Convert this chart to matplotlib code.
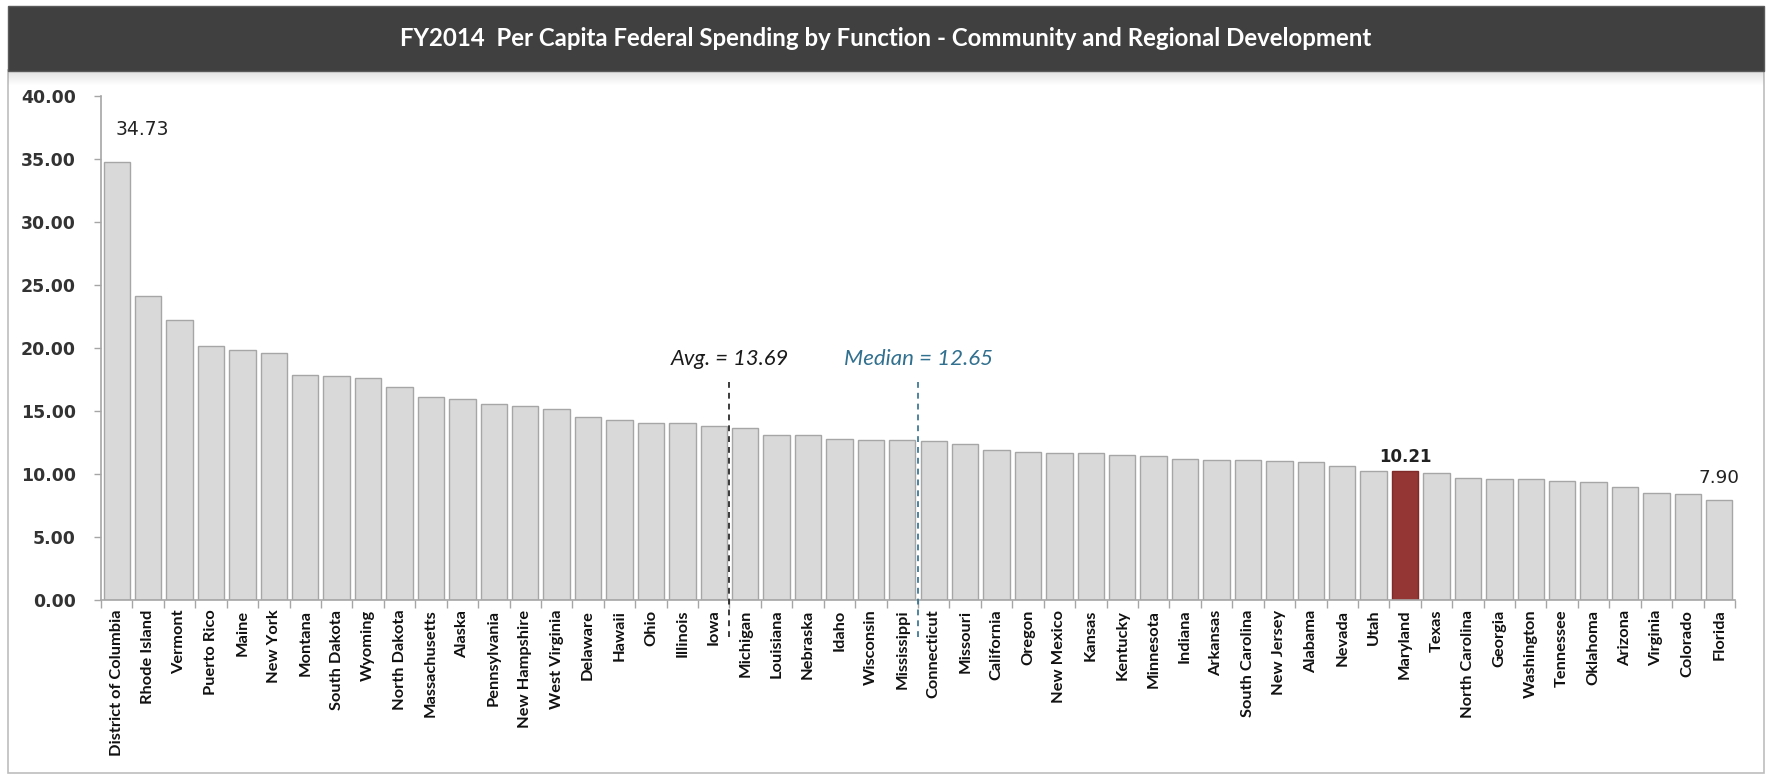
import matplotlib
matplotlib.use("Agg")
import matplotlib.pyplot as plt
from matplotlib.patches import Rectangle
import numpy as np

title = "FY2014  Per Capita Federal Spending by Function - Community and Regional Development"

states = ["District of Columbia", "Rhode Island", "Vermont", "Puerto Rico", "Maine", "New York",
          "Montana", "South Dakota", "Wyoming", "North Dakota", "Massachusetts", "Alaska",
          "Pennsylvania", "New Hampshire", "West Virginia", "Delaware", "Hawaii", "Ohio",
          "Illinois", "Iowa", "Michigan", "Louisiana", "Nebraska", "Idaho", "Wisconsin",
          "Mississippi", "Connecticut", "Missouri", "California", "Oregon", "New Mexico",
          "Kansas", "Kentucky", "Minnesota", "Indiana", "Arkansas", "South Carolina",
          "New Jersey", "Alabama", "Nevada", "Utah", "Maryland", "Texas", "North Carolina",
          "Georgia", "Washington", "Tennessee", "Oklahoma", "Arizona", "Virginia",
          "Colorado", "Florida"]

values = [34.73, 24.13, 22.22, 20.18, 19.85, 19.58, 17.86, 17.80, 17.61, 16.91, 16.14, 15.95,
          15.54, 15.43, 15.19, 14.50, 14.26, 14.05, 14.05, 13.78, 13.63, 13.10, 13.10, 12.78,
          12.70, 12.70, 12.60, 12.41, 11.89, 11.76, 11.65, 11.65, 11.49, 11.45, 11.20, 11.14,
          11.14, 11.01, 10.93, 10.61, 10.27, 10.21, 10.05, 9.71, 9.63, 9.63, 9.47, 9.34,
          8.96, 8.51, 8.40, 7.90]

avg_value = 13.69
median_value = 12.65
highlight = "Maryland"
labeled = ["District of Columbia", "Maryland", "Florida"]
yticks = [0, 5, 10, 15, 20, 25, 30, 35, 40]

W, H = 1771, 774
fig = plt.figure(figsize=(W / 100, H / 100), dpi=100)
fig.patch.set_facecolor("white")

def fx(px):
    return px / W

def fy(py):
    return 1 - py / H

# Frame around chart
fig.patches.append(Rectangle((fx(8), fy(773)), fx(1764) - fx(8), fy(70) - fy(773),
                             transform=fig.transFigure, facecolor="none", edgecolor="#BDBDBD",
                             linewidth=1.2, zorder=0))

# Shadow under title bar
for i in range(14):
    a = 0.22 * (1 - i / 14)
    fig.patches.append(Rectangle((fx(8), fy(71 + i + 1)), fx(1764) - fx(8), 1 / H,
                                 transform=fig.transFigure, facecolor="#808080",
                                 edgecolor="none", alpha=a, zorder=1))

# Title bar
fig.patches.append(Rectangle((fx(8), fy(71)), fx(1764) - fx(8), fy(6) - fy(71),
                             transform=fig.transFigure, facecolor="#404040",
                             edgecolor="#5a5a5a", linewidth=1.0, zorder=2))
fig.text(fx(886), fy(38.5), title, color="white", fontsize=17.3, fontweight="bold",
         family="Lato", ha="center", va="center", zorder=3)

ax = fig.add_axes([fx(101), fy(600), fx(1735) - fx(101), fy(96) - fy(600)])
ax.set_facecolor("none")
ax.set_zorder(5)

x = np.arange(len(states))
colors = ["#943634" if s == highlight else "#D9D9D9" for s in states]
edges = ["#7f2a28" if s == highlight else "#A6A6A6" for s in states]
ax.bar(x, values, width=0.84, color=colors, edgecolor=edges, linewidth=1.0, zorder=2)

ax.set_xlim(-0.5, len(states) - 0.5)
ax.set_ylim(0, 40)
ax.set_yticks(yticks)
ax.set_yticklabels([f"{v:.2f}" for v in yticks], fontsize=12.5, family="DejaVu Sans",
                   fontweight="bold", color="#333333")
ax.set_xticks(x)
ax.set_xticklabels(states, rotation=90, fontsize=11.8, family="Lato", fontweight="bold",
                   color="#111111")
ax.set_xticks(np.arange(len(states) + 1) - 0.5, minor=True)
ax.tick_params(axis="x", which="major", length=0, pad=7)
ax.tick_params(axis="x", which="minor", length=6, color="#A6A6A6", width=1)
ax.tick_params(axis="y", which="major", length=5, color="#A6A6A6", width=1, pad=13)

for sp in ["top", "right"]:
    ax.spines[sp].set_visible(False)
for sp in ["left", "bottom"]:
    ax.spines[sp].set_color("#A6A6A6")
    ax.spines[sp].set_linewidth(1.2)

# Value labels
label_style = {
    "District of Columbia": dict(dx=0.83, off=17, weight="normal", size=13.5),
    "Maryland": dict(dx=0.0, off=4, weight="bold", size=12),
    "Florida": dict(dx=0.0, off=10, weight="normal", size=13.3),
}
for i, s in enumerate(states):
    if s in labeled:
        st = label_style[s]
        ax.annotate(f"{values[i]:.2f}", (x[i] + st["dx"], values[i]), xytext=(0, st["off"]),
                    textcoords="offset points", ha="center", va="bottom",
                    fontsize=st["size"], fontweight=st["weight"], family="DejaVu Sans",
                    color="#222222", zorder=4)

# Average and median reference lines
def between_pos(val):
    for i in range(len(values) - 1):
        if values[i] >= val >= values[i + 1]:
            return i + 0.5
    return 0

avg_x = between_pos(avg_value)
med_x = between_pos(median_value)
line_top, line_bottom = 17.3, -2.9
ax.plot([avg_x, avg_x], [line_bottom, line_top], linestyle=(0, (3.5, 3)), color="#1a1a1a",
        linewidth=1.2, clip_on=False, zorder=5)
ax.plot([med_x, med_x], [line_bottom, line_top], linestyle=(0, (3.5, 3)), color="#31708F",
        linewidth=1.2, clip_on=False, zorder=5)
ax.text(avg_x, 19.1, f"Avg. = {avg_value:.2f}", ha="center", va="center", fontsize=15.8,
        style="italic", family="Lato", color="#1a1a1a")
ax.text(med_x, 19.1, f"Median = {median_value:.2f}", ha="center", va="center",
        fontsize=16, style="italic", family="Lato", color="#31708F")

fig.savefig("out.png", dpi=100, facecolor="white")
